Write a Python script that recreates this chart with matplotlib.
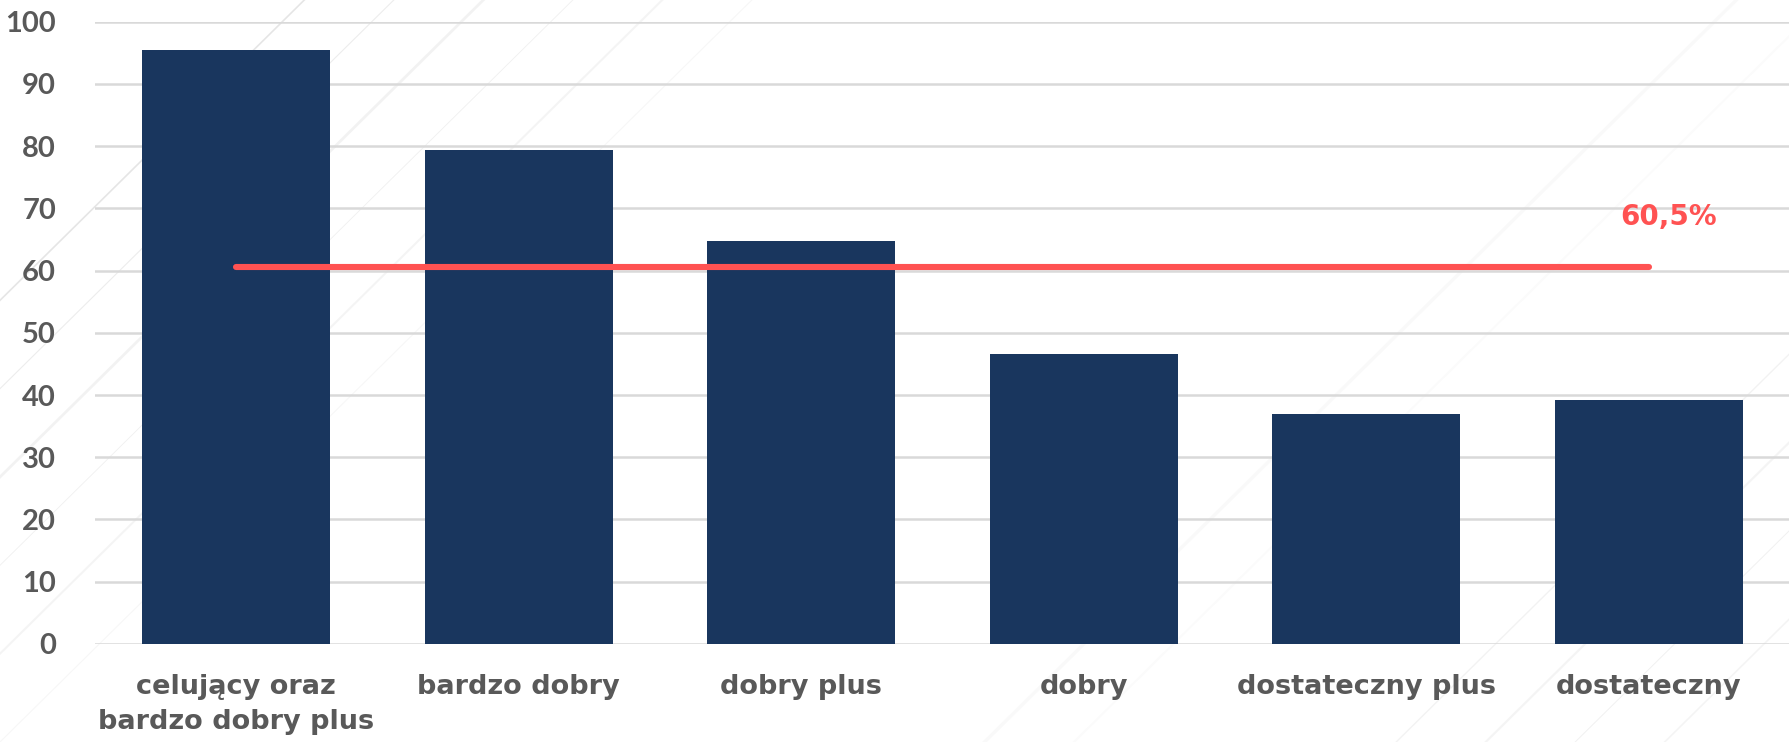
import matplotlib
matplotlib.use("Agg")
import matplotlib.pyplot as plt
import numpy as np

categories = ["celujący oraz\nbardzo dobry plus", "bardzo dobry", "dobry plus",
              "dobry", "dostateczny plus", "dostateczny"]
values = [95.5, 79.4, 64.8, 46.6, 36.9, 39.2]
average = 60.5
average_label = "60,5%"

BAR = "#19365E"
RED = "#FF5252"
TEXT = "#595959"
GRID = "#D9D9D9"

plt.rcParams["font.family"] = ["Lato", "DejaVu Sans"]

fig = plt.figure(figsize=(17.9, 7.42), dpi=100)
fig.patch.set_facecolor("white")

# faint diagonal streaks in the background
bg = fig.add_axes([0, 0, 1, 1], zorder=-5)
bg.set_xlim(0, 1)
bg.set_ylim(0, 1)
bg.axis("off")
for x0, a, w in [(-0.25, 0.25, 1.2), (-0.2, 0.18, 0.8), (-0.15, 0.12, 2.0), (-0.1, 0.15, 0.6),
                 (-0.05, 0.1, 1.5), (0.0, 0.08, 0.8), (0.78, 0.12, 1.0), (0.83, 0.1, 1.6),
                 (0.88, 0.14, 0.7), (0.93, 0.1, 1.2), (0.55, 0.05, 2.5), (0.6, 0.04, 1.5)]:
    bg.plot([x0, x0 + 0.42], [0, 1], color="#9A9A9A", alpha=a, lw=w)

ax = fig.add_axes([0.053, 0.1322, 0.947, 0.8386])
ax.patch.set_alpha(0)

x = np.arange(len(categories))
ax.bar(x, values, width=0.665, color=BAR, zorder=2)
ax.plot([x[0], x[-1]], [average, average], color=RED, lw=4.4,
        solid_capstyle="round", zorder=3)
ax.text(x[-1] + 0.07, 68.6, average_label, color=RED, fontsize=20,
        fontweight="bold", ha="center", va="center", zorder=4,
        family=["DejaVu Sans"])

ax.set_xlim(-0.5, 5.5)
ax.set_ylim(0, 100)
ax.set_yticks(range(0, 101, 10))
ax.yaxis.grid(True, color=GRID, lw=1.8, zorder=0)
ax.set_axisbelow(True)
ax.set_xticks(x)
ax.set_xticklabels(categories, linespacing=1.45)
ax.tick_params(axis="both", length=0, labelsize=21, labelcolor=TEXT)
ax.tick_params(axis="x", pad=22)
ax.tick_params(axis="y", pad=28)
for lab in ax.get_yticklabels():
    lab.set_fontweight("bold")
for lab in ax.get_xticklabels():
    lab.set_fontweight("bold")
    lab.set_family(["DejaVu Sans"])
    lab.set_fontsize(19.5)
for s in ax.spines.values():
    s.set_visible(False)

fig.savefig("out.png", dpi=100, facecolor="white")
